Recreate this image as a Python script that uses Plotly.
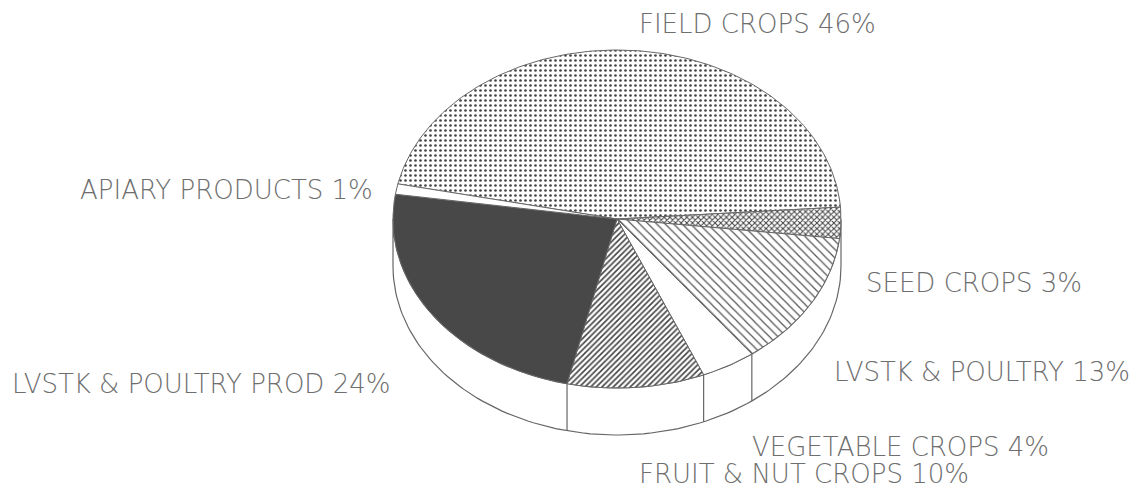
import numpy as np
import plotly.graph_objects as go

labels = ["FIELD CROPS", "SEED CROPS", "LVSTK & POULTRY", "VEGETABLE CROPS",
          "FRUIT & NUT CROPS", "LVSTK & POULTRY PROD", "APIARY PRODUCTS"]
values = [46, 3, 13, 4, 10, 24, 1]

# pie geometry, in page pixels
CX, CY, RX, RY = 617, 219, 224, 169
DEPTH = 47
START_ANGLE = 168
PAGE_MARGIN = 8  # the browser's default body margin
INK = "#666666"
TEXT_COLOR = "#6e6e6e"

styles = {
    "FIELD CROPS": dict(shape=".", size=5, solidity=0.22, fgcolor="#444444", bgcolor="#ffffff", fgopacity=1),
    "SEED CROPS": dict(shape="x", size=4, solidity=0.45, fgcolor="#444444", bgcolor="#ffffff", fgopacity=1),
    "LVSTK & POULTRY": dict(shape="\\", size=6, solidity=0.2, fgcolor="#555555", bgcolor="#ffffff", fgopacity=1),
    "VEGETABLE CROPS": None,
    "FRUIT & NUT CROPS": dict(shape="/", size=4, solidity=0.4, fgcolor="#444444", bgcolor="#ffffff", fgopacity=1),
    "LVSTK & POULTRY PROD": None,
    "APIARY PRODUCTS": None,
}
solid_fill = {"VEGETABLE CROPS": "#ffffff", "LVSTK & POULTRY PROD": "#484848", "APIARY PRODUCTS": "#ffffff"}

# left edge and middle height of each label
label_x = [637, 864, 832, 750, 637, 10, 78]
label_y = [24, 283, 372, 447, 474, 384, 190]

fig = go.Figure()


def on_rim(deg, drop=0):
    rad = np.radians(deg)
    return CX + RX * np.cos(rad), CY - RY * np.sin(rad) + drop


# side wall of the disc
arc = np.linspace(180, 360, 120)
top_x, top_y = on_rim(arc)
low_x, low_y = on_rim(arc[::-1], DEPTH)
fig.add_trace(go.Scatter(x=list(top_x) + list(low_x) + [top_x[0]],
                         y=list(top_y) + list(low_y) + [top_y[0]],
                         mode="lines", fill="toself", fillcolor="#ffffff",
                         line=dict(color=INK, width=1.2), hoverinfo="skip"))

per_unit = 360 / sum(values)
edges = START_ANGLE - np.cumsum([0] + values) * per_unit

for i, name in enumerate(labels):
    arc = np.linspace(edges[i], edges[i + 1], max(int(values[i] * 4), 8))
    xs, ys = on_rim(arc)
    trace = go.Scatter(x=[CX] + list(xs) + [CX], y=[CY] + list(ys) + [CY],
                       mode="lines", fill="toself", line=dict(color=INK, width=1),
                       name=name, hoverinfo="name")
    if styles[name]:
        trace.fillpattern = styles[name]
        trace.fillcolor = "#ffffff"
    else:
        trace.fillcolor = solid_fill[name]
    fig.add_trace(trace)

    # wall edges where a slice boundary sits on the front of the disc
    end = edges[i + 1]
    if -170 < end < -10:
        x0, y0 = on_rim(end)
        x1, y1 = on_rim(end, DEPTH)
        fig.add_trace(go.Scatter(x=[x0, x1], y=[y0, y1], mode="lines",
                                 line=dict(color=INK, width=1.2), hoverinfo="skip"))

    fig.add_annotation(x=label_x[i], y=label_y[i], text=f"{name} {values[i]}%",
                       xanchor="left", yanchor="middle", showarrow=False,
                       font=dict(family="DejaVu Sans", size=26, color=TEXT_COLOR, weight=200))

fig.update_xaxes(range=[PAGE_MARGIN, 1140], visible=False, fixedrange=True)
fig.update_yaxes(range=[488, PAGE_MARGIN], visible=False, fixedrange=True)
fig.update_layout(width=1140 - PAGE_MARGIN, height=488 - PAGE_MARGIN, margin=dict(l=0, r=0, t=0, b=0),
                  showlegend=False, paper_bgcolor="#ffffff", plot_bgcolor="#ffffff")

fig.write_html("out.html")
